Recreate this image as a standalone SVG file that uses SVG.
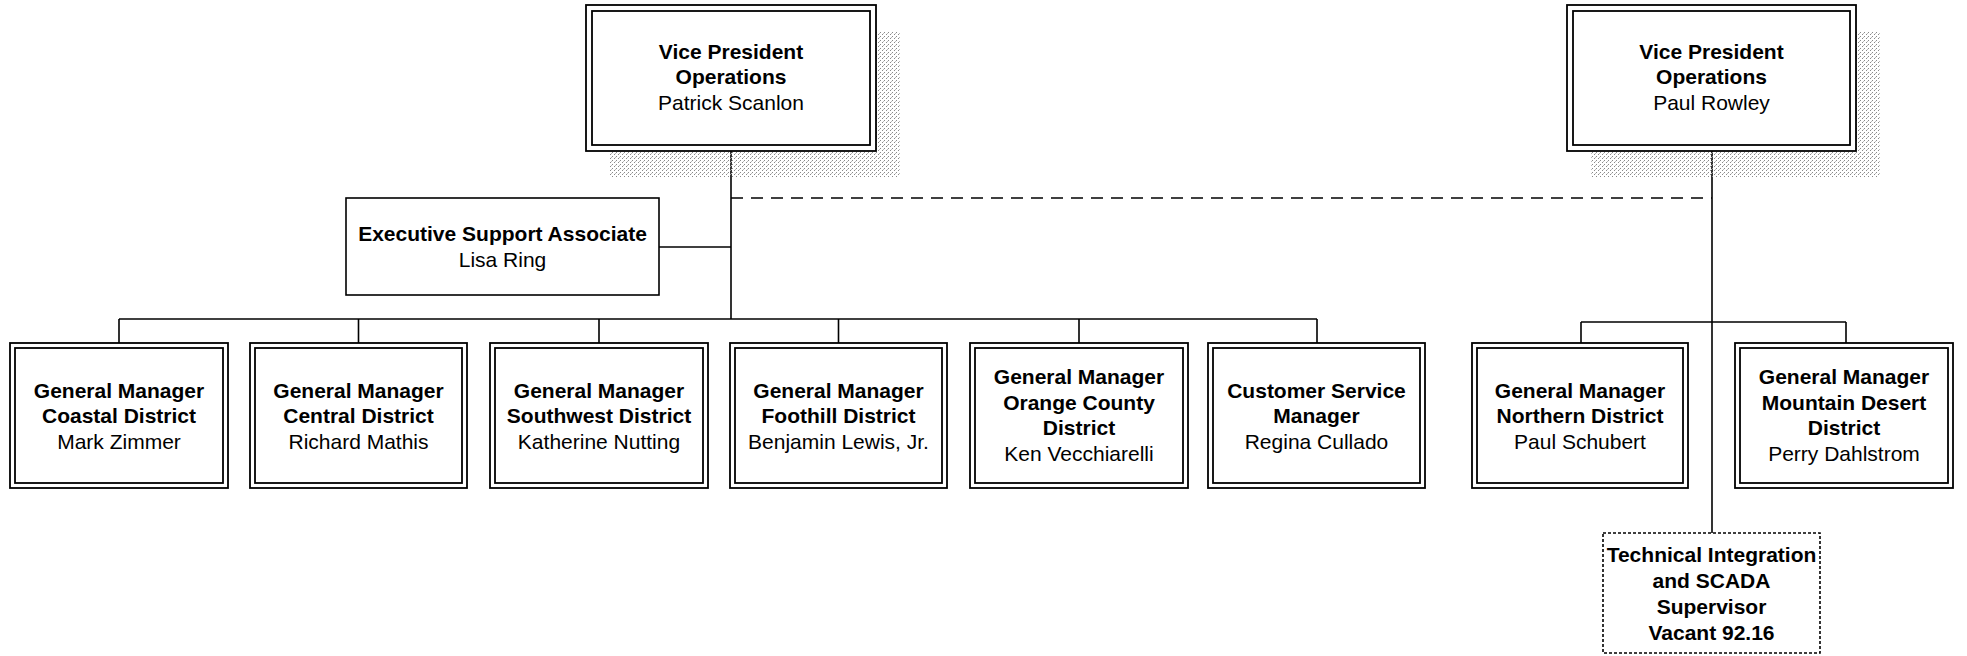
<svg xmlns="http://www.w3.org/2000/svg" width="1967" height="656" viewBox="0 0 1967 656">
<style>
  text { font-family: "Liberation Sans", Arial, sans-serif; font-size: 21px; fill: #000; text-anchor: middle; }
  .b { font-weight: bold; }
  .outer { fill: #fff; stroke: #000; stroke-width: 1.8; }
  .inner { fill: none; stroke: #000; stroke-width: 1.8; }
  .single { fill: #fff; stroke: #000; stroke-width: 1.6; }
  .dotted { fill: #fff; stroke: #000; stroke-width: 1.6; stroke-dasharray: 3 2; }
  .shadow { fill: url(#stipple); }
  .line { stroke: #000; stroke-width: 1.6; fill: none; }
  .dash { stroke: #000; stroke-width: 1.6; fill: none; stroke-dasharray: 12 8; }
</style>
<defs>
  <pattern id="stipple" width="4" height="4" patternUnits="userSpaceOnUse">
    <rect x="0" y="0" width="1" height="1" fill="#8a8a8a"/>
    <rect x="2" y="2" width="1" height="1" fill="#8a8a8a"/>
    <rect x="3" y="1" width="1" height="1" fill="#bbbbbb"/>
  </pattern>
</defs>
<rect width="1967" height="656" fill="#fff"/>

<g id="connectors">
  <path class="line" d="M731,151 V319"/>
  <path class="line" d="M659,247 H731"/>
  <path class="line" d="M119,319 H1317"/>
  <path class="line" d="M119,319 V343 M358.5,319 V343 M599,319 V343 M838.5,319 V343 M1079,319 V343 M1317,319 V343"/>
  <path class="dash" d="M731,198 H1712"/>
  <path class="line" d="M1712,151 V533"/>
  <path class="line" d="M1581,322 H1846 M1581,322 V343 M1846,322 V343"/>
</g>

<g id="vp1">
  <rect class="shadow" x="610" y="32" width="290" height="145"/>
  <rect class="outer" x="586" y="5" width="290" height="146"/>
  <rect class="inner" x="592" y="11" width="278" height="134"/>
  <text x="731" y="58.5" class="b">Vice President</text>
  <text x="731" y="84" class="b">Operations</text>
  <text x="731" y="109.5">Patrick Scanlon</text>
</g>

<g id="vp2">
  <rect class="shadow" x="1591" y="32" width="289" height="145"/>
  <rect class="outer" x="1567" y="5" width="289" height="146"/>
  <rect class="inner" x="1573" y="11" width="277" height="134"/>
  <text x="1711.5" y="58.5" class="b">Vice President</text>
  <text x="1711.5" y="84" class="b">Operations</text>
  <text x="1711.5" y="109.5">Paul Rowley</text>
</g>

<g id="exec">
  <rect class="single" x="346" y="198" width="313" height="97"/>
  <text x="502.5" y="241" class="b">Executive Support Associate</text>
  <text x="502.5" y="267">Lisa Ring</text>
</g>

<g id="gm-coastal">
  <rect class="outer" x="10" y="343" width="218" height="145"/>
  <rect class="inner" x="15" y="348" width="208" height="135"/>
  <text x="119" y="397.5" class="b">General Manager</text>
  <text x="119" y="423" class="b">Coastal District</text>
  <text x="119" y="448.5">Mark Zimmer</text>
</g>

<g id="gm-central">
  <rect class="outer" x="250" y="343" width="217" height="145"/>
  <rect class="inner" x="255" y="348" width="207" height="135"/>
  <text x="358.5" y="397.5" class="b">General Manager</text>
  <text x="358.5" y="423" class="b">Central District</text>
  <text x="358.5" y="448.5">Richard Mathis</text>
</g>

<g id="gm-southwest">
  <rect class="outer" x="490" y="343" width="218" height="145"/>
  <rect class="inner" x="495" y="348" width="208" height="135"/>
  <text x="599" y="397.5" class="b">General Manager</text>
  <text x="599" y="423" class="b">Southwest District</text>
  <text x="599" y="448.5">Katherine Nutting</text>
</g>

<g id="gm-foothill">
  <rect class="outer" x="730" y="343" width="217" height="145"/>
  <rect class="inner" x="735" y="348" width="207" height="135"/>
  <text x="838.5" y="397.5" class="b">General Manager</text>
  <text x="838.5" y="423" class="b">Foothill District</text>
  <text x="838.5" y="448.5">Benjamin Lewis, Jr.</text>
</g>

<g id="gm-orange">
  <rect class="outer" x="970" y="343" width="218" height="145"/>
  <rect class="inner" x="975" y="348" width="208" height="135"/>
  <text x="1079" y="384" class="b">General Manager</text>
  <text x="1079" y="409.5" class="b">Orange County</text>
  <text x="1079" y="435" class="b">District</text>
  <text x="1079" y="460.5">Ken Vecchiarelli</text>
</g>

<g id="cs-manager">
  <rect class="outer" x="1208" y="343" width="217" height="145"/>
  <rect class="inner" x="1213" y="348" width="207" height="135"/>
  <text x="1316.5" y="397.5" class="b">Customer Service</text>
  <text x="1316.5" y="423" class="b">Manager</text>
  <text x="1316.5" y="448.5">Regina Cullado</text>
</g>

<g id="gm-northern">
  <rect class="outer" x="1472" y="343" width="216" height="145"/>
  <rect class="inner" x="1477" y="348" width="206" height="135"/>
  <text x="1580" y="397.5" class="b">General Manager</text>
  <text x="1580" y="423" class="b">Northern District</text>
  <text x="1580" y="448.5">Paul Schubert</text>
</g>

<g id="gm-mountain">
  <rect class="outer" x="1735" y="343" width="218" height="145"/>
  <rect class="inner" x="1740" y="348" width="208" height="135"/>
  <text x="1844" y="384" class="b">General Manager</text>
  <text x="1844" y="409.5" class="b">Mountain Desert</text>
  <text x="1844" y="435" class="b">District</text>
  <text x="1844" y="460.5">Perry Dahlstrom</text>
</g>

<g id="tech-scada">
  <rect class="dotted" x="1603" y="533" width="217" height="120"/>
  <text x="1711.5" y="561.5" class="b">Technical Integration</text>
  <text x="1711.5" y="587.5" class="b">and SCADA</text>
  <text x="1711.5" y="613.5" class="b">Supervisor</text>
  <text x="1711.5" y="639.5" class="b">Vacant 92.16</text>
</g>
</svg>
